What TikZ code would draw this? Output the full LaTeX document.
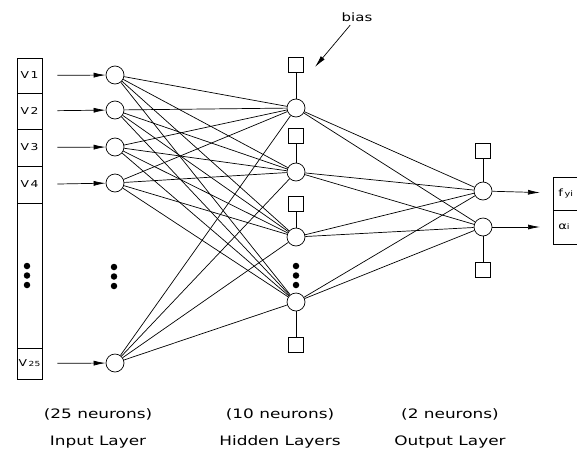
\documentclass[tikz,border=0pt]{standalone}
\usepackage{fontspec}
\setmainfont{DejaVu Sans}
\newfontfamily\cadfont[FakeStretch=1.3]{DejaVu Sans}
\usetikzlibrary{arrows.meta}
\tikzset{
  neuron/.style={circle,draw,minimum size=18pt,inner sep=0pt},
  biasbox/.style={draw,minimum size=15pt,inner sep=0pt},
  cell/.style={draw,minimum width=25pt,inner sep=0pt,font=\cadfont\fontsize{9.5}{12}\selectfont},
  outcell/.style={draw,anchor=west,minimum width=40pt,text width=30pt,align=left,inner xsep=4pt,inner ysep=0pt,font=\cadfont\fontsize{10}{12}\selectfont},
  dot/.style={circle,fill,inner sep=0pt,minimum size=6.5pt},
  caption/.style={align=center,font=\cadfont\fontsize{13}{27}\selectfont}
}
\begin{document}
\begin{tikzpicture}[x=1pt,y=-1pt,>={Latex[length=12pt,width=5pt]},line width=0.7pt]
  \useasboundingbox (0,0) rectangle (577,458);
  \path (29.5,75.5) node [cell,minimum height=35pt](c1){V\,1}
        (29.5,111) node [cell,minimum height=36pt](c2){V\,2}
        (29.5,147.5) node [cell,minimum height=37pt](c3){V\,3}
        (29.5,184.5) node [cell,minimum height=37pt](c4){V\,4}
        (29.5,275.5) node [cell,minimum height=145pt](cgap){}
        (29.5,363.5) node [cell,minimum height=31pt](c25){V\,{\fontsize{7}{8}\selectfont 25}};
  \path (27,266) node [dot](cd1){} (27,275.5) node [dot](cd2){} (27,285) node [dot](cd3){};
  \path (115,75) node [neuron](x1){} (115,110) node [neuron](x2){} (115,147) node [neuron](x3){}
        (115,183) node [neuron](x4){} (115,363) node [neuron](x25){};
  \path (114,267) node [dot](xd1){} (114,276.5) node [dot](xd2){} (114,286) node [dot](xd3){};
  \path (296,108) node [neuron](h1){} (296,172) node [neuron](h2){} (296,237) node [neuron](h3){}
        (296,302) node [neuron](h4){};
  \path (296,266) node [dot](hd1){} (296,275.5) node [dot](hd2){} (296,285) node [dot](hd3){};
  \path (296,64.5) node [biasbox](b1){} (296,136) node [biasbox](b2){} (296,204) node [biasbox](b3){}
        (296,344.5) node [biasbox](b4){};
  \path (483,191) node [neuron](y1){} (483,227) node [neuron](y2){}
        (483,151) node [biasbox](ob1){} (483,270) node [biasbox](ob2){};
  \path (553,193.5) node [outcell,minimum height=33pt](fy){f\,{\fontsize{7.5}{8}\selectfont yi}}
        (553,227) node [outcell,minimum height=34pt](al){α{\fontsize{7.5}{8}\selectfont i}};
  \path (357,17) node [font=\cadfont\fontsize{11.5}{14}\selectfont](bias){bias};
  \coordinate (biastip) at (315,67);
  \draw[->] (bias) -- (biastip);
  \draw[->,shorten <=15pt] (c1) -- (x1);
  \draw[->,shorten <=15pt] (c2) -- (x2);
  \draw[->,shorten <=15pt] (c3) -- (x3);
  \draw[->,shorten <=15pt] (c4) -- (x4);
  \draw[->,shorten <=15pt] (c25) -- (x25);
  \draw (x1) -- (h1) (x1) -- (h2) (x1) -- (h3) (x1) -- (h4);
  \draw (x2) -- (h1) (x2) -- (h2) (x2) -- (h3) (x2) -- (h4);
  \draw (x3) -- (h1) (x3) -- (h2) (x3) -- (h3) (x3) -- (h4);
  \draw (x4) -- (h1) (x4) -- (h2) (x4) -- (h3) (x4) -- (h4);
  \draw (x25) -- (h1) (x25) -- (h2) (x25) -- (h3) (x25) -- (h4);
  \draw (b1) -- (h1) (b2) -- (h2) (b3) -- (h3) (b4) -- (h4);
  \draw (h1) -- (y1) (h2) -- (y1) (h3) -- (y1) (h4) -- (y1);
  \draw (h1) -- (y2) (h2) -- (y2) (h3) -- (y2) (h4) -- (y2);
  \draw (ob1) -- (y1) (ob2) -- (y2);
  \draw[->,shorten >=13pt] (y1) -- (fy);
  \draw[->,shorten >=13pt] (y2) -- (al);
  \path (98,428) node [caption](cin){(25 neurons)\\Input Layer}
        (280,428) node [caption](chid){(10 neurons)\\Hidden Layers}
        (450,428) node [caption](cout){(2 neurons)\\Output Layer};
\end{tikzpicture}
\end{document}
